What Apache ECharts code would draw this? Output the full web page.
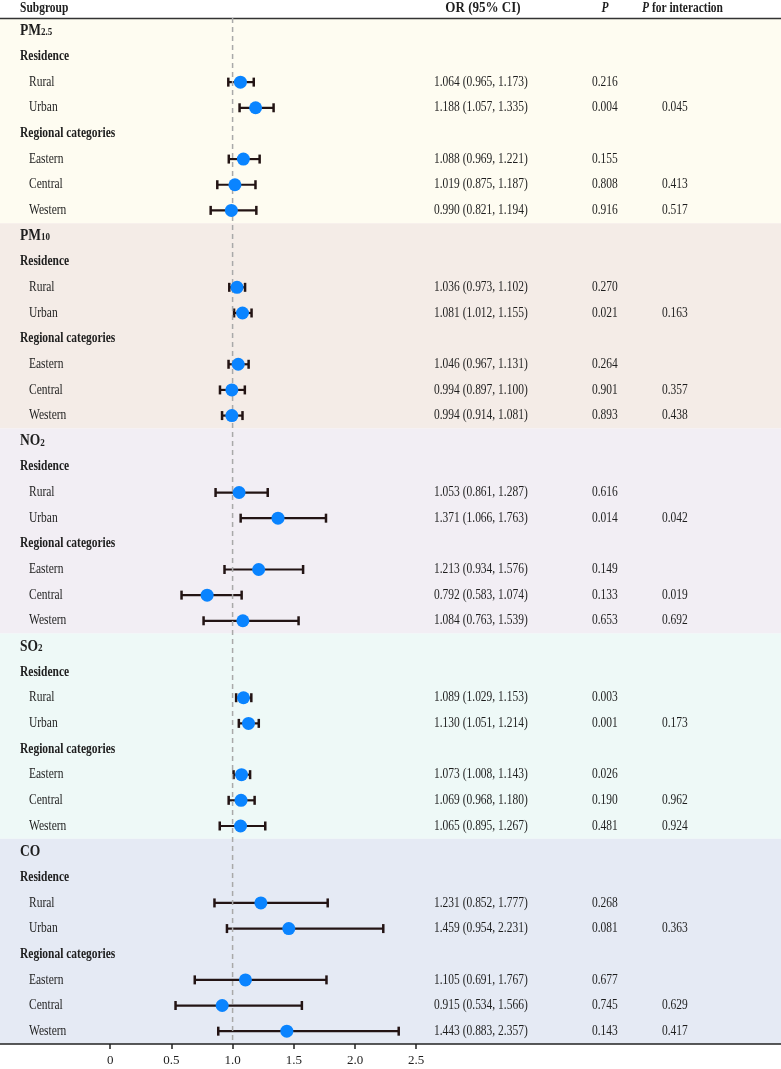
<!DOCTYPE html>
<html>
<head>
<meta charset="utf-8">
<script src="https://cdn.jsdelivr.net/npm/echarts@6/dist/echarts.min.js"></script>
<style>
  html, body { margin: 0; padding: 0; background: #fff; }
  #chart { width: 781px; height: 1069px; }
</style>
</head>
<body>
<div id="chart"></div>
<script>
// data
var pollutantBase = ['PM', 'PM', 'NO', 'SO', 'CO'];
var pollutantSub = ['2.5', '10', '2', '2', ''];
var groupTitles = ['Residence', 'Regional categories'];
var subgroups = ['Rural', 'Urban', 'Eastern', 'Central', 'Western'];

var orValues = [
  [1.064, 1.188, 1.088, 1.019, 0.990],
  [1.036, 1.081, 1.046, 0.994, 0.994],
  [1.053, 1.371, 1.213, 0.792, 1.084],
  [1.089, 1.130, 1.073, 1.069, 1.065],
  [1.231, 1.459, 1.105, 0.915, 1.443]
];
var ciLower = [
  [0.965, 1.057, 0.969, 0.875, 0.821],
  [0.973, 1.012, 0.967, 0.897, 0.914],
  [0.861, 1.066, 0.934, 0.583, 0.763],
  [1.029, 1.051, 1.008, 0.968, 0.895],
  [0.852, 0.954, 0.691, 0.534, 0.883]
];
var ciUpper = [
  [1.173, 1.335, 1.221, 1.187, 1.194],
  [1.102, 1.155, 1.131, 1.100, 1.081],
  [1.287, 1.763, 1.576, 1.074, 1.539],
  [1.153, 1.214, 1.143, 1.180, 1.267],
  [1.777, 2.231, 1.767, 1.566, 2.357]
];
var pValues = [
  ['0.216', '0.004', '0.155', '0.808', '0.916'],
  ['0.270', '0.021', '0.264', '0.901', '0.893'],
  ['0.616', '0.014', '0.149', '0.133', '0.653'],
  ['0.003', '0.001', '0.026', '0.190', '0.481'],
  ['0.268', '0.081', '0.677', '0.745', '0.143']
];
var pInteraction = [
  ['', '0.045', '', '0.413', '0.517'],
  ['', '0.163', '', '0.357', '0.438'],
  ['', '0.042', '', '0.019', '0.692'],
  ['', '0.173', '', '0.962', '0.924'],
  ['', '0.363', '', '0.629', '0.417']
];
var refValue = 1;
var tickValues = [0, 0.5, 1, 1.5, 2, 2.5];
var tickLabels = ['0', '0.5', '1.0', '1.5', '2.0', '2.5'];
var panelColors = ['#FEFCF1', '#F4ECE7', '#F2EEF4', '#EEF9F7', '#E5EAF4'];

var FONT = '"Liberation Serif", "Times New Roman", serif';
var TXT = '#1e1e1e';
var BAR = '#231414';
var SX = 0.82; // the original font is a narrow Times

// build table rows: 8 rows per pollutant
var rows = [];
var barData = [];
var pointData = [];
pollutantBase.forEach(function (base, k) {
  rows.push({ kind: 'pollutant', k: k });
  rows.push({ kind: 'group', text: groupTitles[0] });
  for (var j = 0; j < 5; j++) {
    if (j === 2) rows.push({ kind: 'group', text: groupTitles[1] });
    var r = rows.length;
    rows.push({
      kind: 'sub',
      text: subgroups[j],
      orText: orValues[k][j].toFixed(3) + ' (' + ciLower[k][j].toFixed(3) + ', ' + ciUpper[k][j].toFixed(3) + ')',
      p: pValues[k][j],
      pInt: pInteraction[k][j]
    });
    barData.push([ciLower[k][j], ciUpper[k][j], r + 0.5]);
    pointData.push([orValues[k][j], r + 0.5]);
  }
});
var nRows = rows.length;

function txt(x, y, s, font, extra) {
  var el = { type: 'text', x: x, y: y, scaleX: SX, style: { text: s, font: font, fill: TXT, textVerticalAlign: 'middle' } };
  if (extra) for (var key in extra) el.style[key] = extra[key];
  return el;
}

var chart = echarts.init(document.getElementById('chart'));

var option = {
  animation: false,
  grid: { left: 0, right: 0, top: 18, bottom: 25 },
  xAxis: [{
    type: 'value', min: -0.9, max: 5.48, position: 'bottom',
    axisLine: { show: true, onZero: false, lineStyle: { color: '#222', width: 1.5 } },
    axisTick: { show: true, customValues: tickValues, length: 5, lineStyle: { color: '#222', width: 1.5 } },
    axisLabel: {
      customValues: tickValues, margin: 10, color: TXT, fontFamily: FONT, fontSize: 13,
      formatter: function (v) {
        var i = tickValues.indexOf(v);
        return i >= 0 ? tickLabels[i] : v.toFixed(1);
      }
    },
    splitLine: { show: false }
  }, {
    type: 'value', min: -0.9, max: 5.48, position: 'top',
    axisLine: { show: true, onZero: false, lineStyle: { color: '#333', width: 1.3 } },
    axisTick: { show: false }, axisLabel: { show: false }, splitLine: { show: false }
  }],
  yAxis: { type: 'value', min: 0, max: nRows, inverse: true, show: false },
  graphic: [
    txt(20, 8, 'Subgroup', 'bold 14px ' + FONT),
    { type: 'text', x: 483, y: 8, scaleX: 0.9, style: { text: 'OR (95% CI)', font: 'bold 14.5px ' + FONT, fill: TXT, textAlign: 'center', textVerticalAlign: 'middle' } },
    txt(605, 8, 'P', 'italic bold 14px ' + FONT, { textAlign: 'center' }),
    txt(642, 8, '{i|P}{b| for interaction}', '', {
      rich: { i: { font: 'italic bold 14px ' + FONT, fill: TXT }, b: { font: 'bold 14px ' + FONT, fill: TXT } }
    })
  ],
  series: [
    {
      // panel backgrounds
      type: 'custom', z: 0, silent: true, clip: false,
      data: panelColors.map(function (c, k) { return [k * 8, k * 8 + 8]; }),
      renderItem: function (params, api) {
        var cs = params.coordSys;
        var y0 = api.coord([0, api.value(0)])[1];
        var y1 = api.coord([0, api.value(1)])[1];
        return { type: 'rect', shape: { x: cs.x, y: y0, width: cs.width, height: y1 - y0 }, style: { fill: panelColors[params.dataIndex] } };
      }
    },
    {
      // confidence intervals
      type: 'custom', z: 2, silent: true,
      data: barData,
      encode: { x: [0, 1], y: 2 },
      renderItem: function (params, api) {
        var a = api.coord([api.value(0), api.value(2)]);
        var b = api.coord([api.value(1), api.value(2)]);
        var h = 4.5;
        var st = { stroke: BAR, lineWidth: 2.2 };
        return {
          type: 'group',
          children: [
            { type: 'line', shape: { x1: a[0], y1: a[1], x2: b[0], y2: b[1] }, style: st },
            { type: 'line', shape: { x1: a[0], y1: a[1] - h, x2: a[0], y2: a[1] + h }, style: { stroke: BAR, lineWidth: 2.5 } },
            { type: 'line', shape: { x1: b[0], y1: b[1] - h, x2: b[0], y2: b[1] + h }, style: { stroke: BAR, lineWidth: 2.5 } }
          ]
        };
      }
    },
    {
      // reference line at OR = 1
      type: 'line', z: 3, silent: true, symbol: 'none',
      data: [[refValue, 0], [refValue, nRows]],
      lineStyle: { color: '#A9A9A9', type: [5, 4], width: 1.5 }
    },
    {
      type: 'scatter', z: 4, silent: true,
      data: pointData,
      symbol: 'circle', symbolSize: 13,
      itemStyle: { color: '#0A84FF', opacity: 1 }
    },
    {
      // table text
      type: 'custom', z: 5, silent: true, clip: false,
      data: rows.map(function (r, i) { return [0, i + 0.5]; }),
      renderItem: function (params, api) {
        var row = rows[params.dataIndex];
        var y = api.coord([0, api.value(1)])[1];
        var kids = [];
        if (row.kind === 'pollutant') {
          kids.push(txt(20, y, '{b|' + pollutantBase[row.k] + '}' + (pollutantSub[row.k] ? '{s|' + pollutantSub[row.k] + '}' : ''), '', {
            rich: { b: { font: 'bold 16.5px ' + FONT, fill: TXT }, s: { font: 'bold 11px ' + FONT, fill: TXT, padding: [3, 0, 0, 0] } }
          }));
        } else if (row.kind === 'group') {
          kids.push(txt(20, y, row.text, 'bold 14px ' + FONT));
        } else {
          var f = '14px ' + FONT;
          kids.push(txt(29, y, row.text, f));
          kids.push(txt(434, y, row.orText, f));
          kids.push(txt(592, y, row.p, f));
          if (row.pInt) kids.push(txt(662, y, row.pInt, f));
        }
        return { type: 'group', children: kids };
      }
    }
  ]
};

chart.setOption(option);
window.onresize = chart.resize;
</script>
</body>
</html>
